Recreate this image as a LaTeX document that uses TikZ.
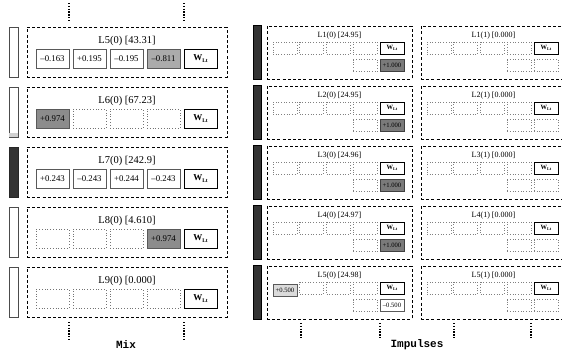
\documentclass[tikz,border=0pt]{standalone}
\usepackage{fontspec}
\setmainfont{Liberation Serif}
\newfontfamily\labmono{Liberation Mono}
\newcommand\WLbig{{\fontsize{9}{9}\selectfont\bfseries W\raisebox{-2pt}{\fontsize{5.5}{5.5}\selectfont\bfseries Lt}}}
\newcommand\WLsmall{{\fontsize{6.5}{6.5}\selectfont\bfseries W\raisebox{-1.5pt}{\fontsize{4.2}{4.2}\selectfont\bfseries Lt}}}
\newcommand\mn{\textendash}
\tikzset{
 panel/.style={draw=black,line width=0.8pt,dash pattern=on 3pt off 2.2pt,inner sep=0pt},
 lbar/.style={draw=black!70,line width=0.9pt,fill=white,inner sep=0pt,minimum width=9pt,minimum height=50pt},
 dbar/.style={draw=black,line width=0.6pt,fill=black!80,inner sep=0pt,minimum width=8pt,minimum height=54pt},
 cellL/.style={minimum width=33pt,minimum height=19pt,inner sep=0pt,font=\fontsize{8.8}{9}\selectfont},
 valL/.style={cellL,draw=black!65,line width=0.8pt,fill=white},
 emptyL/.style={cellL,draw=black!55,line width=0.8pt,dotted},
 wL/.style={cellL,draw=black,line width=1pt,fill=white},
 cellR/.style={minimum width=24pt,minimum height=12pt,inner sep=0pt,font=\fontsize{6.6}{6.6}\selectfont},
 valR/.style={cellR,draw=black!65,line width=0.8pt,fill=white},
 emptyR/.style={cellR,draw=black!50,line width=0.7pt,dotted},
 wR/.style={cellR,draw=black,line width=0.9pt,fill=white},
 titleL/.style={anchor=base,font=\fontsize{10.5}{11}\selectfont},
 titleR/.style={anchor=base,font=\fontsize{8}{8}\selectfont},
 vdots/.style={line width=1.6pt,dash pattern=on 1.4pt off 1.4pt},
 caption/.style={anchor=base,font=\labmono\bfseries\fontsize{11}{11}\selectfont},
}
\begin{document}
\begin{tikzpicture}[x=1pt,y=-1pt]
\clip (0,0) rectangle (562,354);
% ---------------- Mix column ----------------
\node[lbar] (mbar0) at (13.5,52) {};
\node[lbar] (mbar1) at (13.5,112) {};
\fill[black!18] ([xshift=0.45pt,yshift=0.45pt]mbar1.south west) rectangle ([xshift=-0.45pt,yshift=4pt]mbar1.south east);
\node[lbar,draw=black!85,fill=black!80] (mbar2) at (13.5,172) {};
\node[lbar] (mbar3) at (13.5,232) {};
\node[lbar] (mbar4) at (13.5,292) {};
\foreach \k/\v in {0/43.31,1/67.23,2/242.9,3/4.610,4/0.000}{
  \pgfmathsetmacro\yt{27+60*\k}
  \pgfmathtruncatemacro\n{5+\k}
  \node[panel,minimum width=200pt,minimum height=50pt] (mp\k) at (127,{\yt+25}) {};
  \node[titleL] (mt\k) at (127,{\yt+16}) {L\n(0) [\v]};
  \node[wL] (mw\k) at (200.5,{\yt+31.5}) {\WLbig};
}
% L5
\node[valL] (m0c0) at (52.5,58.5) {\mn0.163};
\node[valL] (m0c1) at (89.5,58.5) {+0.195};
\node[valL] (m0c2) at (126.5,58.5) {\mn0.195};
\node[valL,fill=black!33] (m0c3) at (163.5,58.5) {\mn0.811};
% L6
\node[valL,fill=black!45] (m1c0) at (52.5,118.5) {+0.974};
\node[emptyL] (m1c1) at (89.5,118.5) {};
\node[emptyL] (m1c2) at (126.5,118.5) {};
\node[emptyL] (m1c3) at (163.5,118.5) {};
% L7
\node[valL] (m2c0) at (52.5,178.5) {+0.243};
\node[valL] (m2c1) at (89.5,178.5) {\mn0.243};
\node[valL] (m2c2) at (126.5,178.5) {+0.244};
\node[valL] (m2c3) at (163.5,178.5) {\mn0.243};
% L8
\node[emptyL] (m3c0) at (52.5,238.5) {};
\node[emptyL] (m3c1) at (89.5,238.5) {};
\node[emptyL] (m3c2) at (126.5,238.5) {};
\node[valL,fill=black!45] (m3c3) at (163.5,238.5) {+0.974};
% L9
\node[emptyL] (m4c0) at (52.5,298.5) {};
\node[emptyL] (m4c1) at (89.5,298.5) {};
\node[emptyL] (m4c2) at (126.5,298.5) {};
\node[emptyL] (m4c3) at (163.5,298.5) {};
% dotted continuation lines
\coordinate (mta1) at (69,3);   \coordinate (mta2) at (69,22);
\coordinate (mtb1) at (184,3);  \coordinate (mtb2) at (184,22);
\coordinate (mba1) at (69,322); \coordinate (mba2) at (69,340);
\coordinate (mbb1) at (184,322);\coordinate (mbb2) at (184,340);
\draw[vdots] (mta1) -- (mta2);
\draw[vdots] (mtb1) -- (mtb2);
\draw[vdots] (mba1) -- (mba2);
\draw[vdots] (mbb1) -- (mbb2);
\node[caption] (mixlab) at (126,348) {Mix};
% ---------------- Impulses column ----------------
\foreach \k/\v in {0/24.95,1/24.95,2/24.96,3/24.97,4/24.98}{
  \pgfmathsetmacro\yt{26+60*\k}
  \pgfmathtruncatemacro\n{1+\k}
  \node[dbar] (ibar\k) at (257,{\yt+26.5}) {};
  \node[panel,minimum width=145pt,minimum height=53pt] (ipa\k) at (339.5,{\yt+26.5}) {};
  \node[panel,minimum width=145pt,minimum height=53pt] (ipb\k) at (493.5,{\yt+26.5}) {};
  \node[titleR] (ita\k) at (339.5,{\yt+11.3}) {L\n(0) [\v]};
  \node[titleR] (itb\k) at (493.5,{\yt+11.3}) {L\n(1) [0.000]};
  \node[wR] (iwa\k) at (392,{\yt+22}) {\WLsmall};
  \node[wR] (iwb\k) at (546,{\yt+22}) {\WLsmall};
  \node[emptyR] (ira\k) at (365.25,{\yt+39.5}) {};
  \node[emptyR] (irb\k) at (519.25,{\yt+39.5}) {};
  \node[emptyR] (irc\k) at (546,{\yt+39.5}) {};
  \foreach \c/\xx in {1/311.75,2/338.5,3/365.25}{
    \node[emptyR] (ia\k\c) at (\xx,{\yt+22}) {};
  }
  \foreach \c/\xx in {0/439,1/465.75,2/492.5,3/519.25}{
    \node[emptyR] (ib\k\c) at (\xx,{\yt+22}) {};
  }
}
\foreach \k in {0,...,3}{
  \pgfmathsetmacro\yt{26+60*\k}
  \node[emptyR] (ia\k0) at (285,{\yt+22}) {};
  \node[valR,draw=black!75,fill=black!52] (iv\k) at (392,{\yt+39.5}) {+1.000};
}
\node[valR,fill=black!14] (ia40) at (285,290) {+0.500};
\node[valR] (iv4) at (392,305.5) {\mn0.500};
\coordinate (iba1) at (301,323); \coordinate (iba2) at (301,338);
\coordinate (ibb1) at (380,323); \coordinate (ibb2) at (380,338);
\coordinate (ibc1) at (454,323); \coordinate (ibc2) at (454,338);
\coordinate (ibd1) at (531,323); \coordinate (ibd2) at (531,338);
\draw[vdots] (iba1) -- (iba2);
\draw[vdots] (ibb1) -- (ibb2);
\draw[vdots] (ibc1) -- (ibc2);
\draw[vdots] (ibd1) -- (ibd2);
\node[caption] (implab) at (417,347.5) {Impulses};
\end{tikzpicture}
\end{document}
